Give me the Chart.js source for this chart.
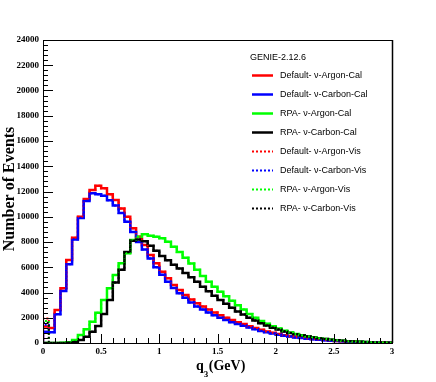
<!DOCTYPE html>
<html>
<head>
<meta charset="utf-8">
<style>
  html, body { margin: 0; padding: 0; background: #fff; }
</style>
<script src="https://cdn.jsdelivr.net/npm/chart.js@4.4.1/dist/chart.umd.min.js"></script>
</head>
<body>
<canvas id="chart" width="436" height="382"></canvas>
<script>
// histogram binning: 60 bins of 0.05 GeV from 0 to 3
const binLow = 0;
const binHigh = 3;
const nBins = 60;

const legendTitle = "GENIE-2.12.6";
const seriesNames = [
  "Default- \u03bd-Argon-Cal",
  "Default- \u03bd-Carbon-Cal",
  "RPA- \u03bd-Argon-Cal",
  "RPA- \u03bd-Carbon-Cal",
  "Default- \u03bd-Argon-Vis",
  "Default- \u03bd-Carbon-Vis",
  "RPA- \u03bd-Argon-Vis",
  "RPA- \u03bd-Carbon-Vis"
];
const seriesColors = ["#ff0000", "#0000ff", "#00ff00", "#000000",
                      "#ff0000", "#0000ff", "#00ff00", "#000000"];

const defaultArgonCal = [
  1300, 1190, 2610, 4330, 6570, 8340, 10000, 11400, 12120, 12460,
  12250, 11780, 11330, 10660, 10000, 9080, 8420, 7760, 6970, 6310,
  5650, 5120, 4590, 4200, 3800, 3450, 3150, 2900, 2650, 2420,
  2200, 2000, 1820, 1650, 1500, 1330, 1180, 1050, 920, 810,
  710, 620, 540, 470, 410, 360, 310, 270, 230, 195,
  165, 140, 115, 95, 78, 62, 50, 40, 30, 22
];
const defaultCarbonCal = [
  900, 850, 2270, 4120, 6230, 8200, 9900, 11250, 11860, 11780,
  11670, 11300, 10900, 10300, 9600, 8800, 8000, 7400, 6700, 6000,
  5400, 4850, 4350, 3950, 3580, 3200, 2900, 2650, 2420, 2200,
  2000, 1820, 1650, 1500, 1370, 1220, 1080, 960, 850, 750,
  660, 580, 510, 445, 390, 340, 295, 255, 220, 185,
  155, 130, 108, 88, 72, 58, 46, 36, 28, 20
];
const rpaArgonCal = [
  0, 0, 0, 20, 60, 240, 630, 1080, 1690, 2400,
  3410, 4330, 5390, 6310, 7100, 8160, 8420, 8610, 8500, 8420,
  8290, 8020, 7630, 7200, 6750, 6300, 5800, 5300, 4850, 4450,
  4050, 3700, 3350, 3000, 2650, 2300, 2000, 1750, 1520, 1320,
  1140, 980, 840, 720, 610, 520, 440, 375, 315, 265,
  220, 180, 148, 120, 96, 76, 60, 46, 35, 26
];
const rpaCarbonCal = [
  0, 0, 0, 0, 20, 80, 240, 500, 900, 1350,
  2300, 3400, 4800, 5800, 7200, 8100, 8200, 8050, 7700, 7300,
  6900, 6550, 6200, 5900, 5550, 5200, 4850, 4450, 4100, 3750,
  3400, 3100, 2800, 2500, 2250, 2000, 1780, 1570, 1380, 1210,
  1060, 920, 800, 690, 590, 505, 430, 365, 310, 262,
  218, 180, 148, 120, 96, 76, 58, 44, 33, 24
];
const defaultArgonVis = [
  1950, 1190, 2610, 4330, 6570, 8340, 10000, 11400, 12120, 12460,
  12250, 11780, 11330, 10660, 10000, 9080, 8420, 7760, 6970, 6310,
  5650, 5120, 4590, 4200, 3800, 3450, 3150, 2900, 2650, 2420,
  2200, 2000, 1820, 1650, 1500, 1330, 1180, 1050, 920, 810,
  710, 620, 540, 470, 410, 360, 310, 270, 230, 195,
  165, 140, 115, 95, 78, 62, 50, 40, 30, 22
];
const defaultCarbonVis = [
  1450, 850, 2270, 4120, 6230, 8200, 9900, 11250, 11860, 11780,
  11670, 11300, 10900, 10300, 9600, 8800, 8000, 7400, 6700, 6000,
  5400, 4850, 4350, 3950, 3580, 3200, 2900, 2650, 2420, 2200,
  2000, 1820, 1650, 1500, 1370, 1220, 1080, 960, 850, 750,
  660, 580, 510, 445, 390, 340, 295, 255, 220, 185,
  155, 130, 108, 88, 72, 58, 46, 36, 28, 20
];
const rpaArgonVis = [
  1750, 0, 0, 20, 60, 240, 630, 1080, 1690, 2400,
  3410, 4330, 5390, 6310, 7100, 8160, 8420, 8610, 8500, 8420,
  8290, 8020, 7630, 7200, 6750, 6300, 5800, 5300, 4850, 4450,
  4050, 3700, 3350, 3000, 2650, 2300, 2000, 1750, 1520, 1320,
  1140, 980, 840, 720, 610, 520, 440, 375, 315, 265,
  220, 180, 148, 120, 96, 76, 60, 46, 35, 26
];
const rpaCarbonVis = [
  1600, 0, 0, 0, 20, 80, 240, 500, 900, 1350,
  2300, 3400, 4800, 5800, 7200, 8100, 8200, 8050, 7700, 7300,
  6900, 6550, 6200, 5900, 5550, 5200, 4850, 4450, 4100, 3750,
  3400, 3100, 2800, 2500, 2250, 2000, 1780, 1570, 1380, 1210,
  1060, 920, 800, 690, 590, 505, 430, 365, 310, 262,
  218, 180, 148, 120, 96, 76, 58, 44, 33, 24
];

const allSeries = [defaultArgonCal, defaultCarbonCal, rpaArgonCal, rpaCarbonCal,
                   defaultArgonVis, defaultCarbonVis, rpaArgonVis, rpaCarbonVis];

const yTicks = [0, 2000, 4000, 6000, 8000, 10000, 12000, 14000, 16000, 18000, 20000, 22000, 24000];
const xTicks = [0, 0.5, 1, 1.5, 2, 2.5, 3];

const serif = '"Liberation Serif", "Times New Roman", serif';
const sans = '"Liberation Sans", Arial, sans-serif';

// histogram outline: start on the baseline, one point per bin low edge, back to baseline
function histPoints(values) {
  const w = (binHigh - binLow) / nBins;
  const pts = [{ x: binLow, y: 0 }];
  values.forEach((v, i) => pts.push({ x: binLow + i * w, y: v }));
  pts.push({ x: binHigh, y: 0 });
  return pts;
}

const datasets = allSeries.map((vals, i) => ({
  label: seriesNames[i],
  data: histPoints(vals),
  borderColor: seriesColors[i],
  borderWidth: i < 4 ? 2.5 : 2,
  borderDash: i < 4 ? [] : [2, 2],
  stepped: "before",
  pointRadius: 0,
  fill: false,
  order: 8 - i
}));

const framePlugin = {
  id: "frame",
  afterDatasetsDraw(chart) {
    const { ctx, chartArea: a, scales } = chart;
    ctx.save();
    ctx.strokeStyle = "#000";
    ctx.lineWidth = 1;
    ctx.setLineDash([]);
    // inward ticks, left and bottom
    ctx.beginPath();
    for (let v = 0; v <= 24000; v += 400) {
      const y = Math.round(scales.y.getPixelForValue(v)) + 0.5;
      const len = v % 2000 === 0 ? 10 : 5;
      ctx.moveTo(a.left, y);
      ctx.lineTo(a.left + len, y);
    }
    for (let i = 0; i <= 30; i++) {
      const x = Math.round(scales.x.getPixelForValue(i / 10)) + 0.5;
      const len = i % 5 === 0 ? 9 : 5;
      ctx.moveTo(x, a.bottom);
      ctx.lineTo(x, a.bottom - len);
    }
    ctx.stroke();
    ctx.strokeRect(Math.round(a.left) + 0.5, Math.round(a.top) + 0.5,
                   Math.round(a.right - a.left), Math.round(a.bottom - a.top));
    ctx.lineWidth = 1.5;
    ctx.beginPath();
    ctx.moveTo(Math.round(a.right) + 0.5, a.top);
    ctx.lineTo(Math.round(a.right) + 0.5, a.bottom);
    ctx.stroke();

    // legend
    ctx.font = "9px " + sans;
    ctx.fillStyle = "#000";
    ctx.textBaseline = "middle";
    ctx.textAlign = "left";
    ctx.fillText(legendTitle, 250, 58);
    chart.data.datasets.forEach((ds, i) => {
      const y = 75.5 + i * 19;
      ctx.strokeStyle = ds.borderColor;
      ctx.lineWidth = ds.borderWidth;
      ctx.setLineDash(ds.borderDash);
      ctx.beginPath();
      ctx.moveTo(252, y);
      ctx.lineTo(273, y);
      ctx.stroke();
      ctx.fillText(ds.label, 280, y);
    });

    // axis titles
    ctx.setLineDash([]);
    ctx.font = "bold 16px " + serif;
    ctx.textAlign = "center";
    ctx.save();
    ctx.translate(10, 189);
    ctx.rotate(-Math.PI / 2);
    ctx.fillText("Number of Events", 0, 0);
    ctx.restore();

    ctx.textBaseline = "alphabetic";
    ctx.textAlign = "left";
    ctx.font = "bold 14px " + serif;
    let x = 196;
    ctx.fillText("q", x, 370);
    x += ctx.measureText("q").width;
    ctx.font = "bold 9px " + serif;
    ctx.fillText("3", x, 377);
    x += ctx.measureText("3").width + 0.5;
    ctx.font = "bold 14px " + serif;
    ctx.fillText("(GeV)", x, 370);
    ctx.restore();
  }
};

new Chart(document.getElementById("chart"), {
  type: "line",
  data: { datasets: datasets },
  options: {
    responsive: false,
    animation: false,
    devicePixelRatio: 1,
    layout: { padding: { left: 0, top: 40, right: 44, bottom: 0 } },
    plugins: {
      legend: { display: false },
      tooltip: { enabled: false }
    },
    scales: {
      x: {
        type: "linear",
        min: binLow,
        max: binHigh,
        afterFit: s => { s.height = 39; },
        afterBuildTicks: s => { s.ticks = xTicks.map(v => ({ value: v })); },
        grid: { display: false, drawTicks: false },
        border: { display: false },
        ticks: {
          padding: 3,
          color: "#000",
          font: { family: serif, size: 9, weight: "bold" },
          maxRotation: 0,
          callback: v => String(v)
        }
      },
      y: {
        min: 0,
        max: 24000,
        afterFit: s => { s.width = 43; },
        afterBuildTicks: s => { s.ticks = yTicks.map(v => ({ value: v })); },
        grid: { display: false, drawTicks: false },
        border: { display: false },
        ticks: {
          padding: 4,
          color: "#000",
          font: { family: serif, size: 9, weight: "bold" },
          callback: v => String(v)
        }
      }
    }
  },
  plugins: [framePlugin]
});
</script>
</body>
</html>
